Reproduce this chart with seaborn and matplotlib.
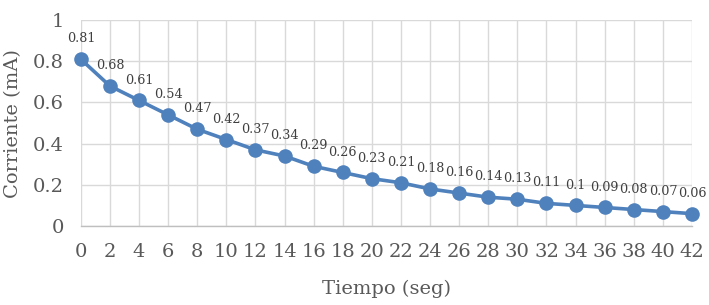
import numpy as np
import pandas as pd
import matplotlib
matplotlib.use('Agg')
import matplotlib.pyplot as plt
import seaborn as sns

# data
tiempo = [0, 2, 4, 6, 8, 10, 12, 14, 16, 18, 20, 22, 24, 26, 28, 30, 32, 34, 36, 38, 40, 42]
corriente = [0.81, 0.68, 0.61, 0.54, 0.47, 0.42, 0.37, 0.34, 0.29, 0.26, 0.23,
             0.21, 0.18, 0.16, 0.14, 0.13, 0.11, 0.1, 0.09, 0.08, 0.07, 0.06]
y_ticks = [0, 0.2, 0.4, 0.6, 0.8, 1]
y_tick_labels = ['0', '0.2', '0.4', '0.6', '0.8', '1']

sns.set_style('white')
plt.rcParams['font.family'] = ['DejaVu Serif']

df = pd.DataFrame({'tiempo': tiempo, 'corriente': corriente})

blue = '#4F81BD'
text_col = '#595959'

fig = plt.figure(figsize=(7.09, 3.05), dpi=100)
ax = fig.add_axes([0.114, 0.259, 0.862, 0.675])

sns.lineplot(data=df, x='tiempo', y='corriente', ax=ax, color=blue,
             linewidth=2.6, marker='o', markersize=10.5, markeredgewidth=0,
             zorder=3, clip_on=False)

# data labels above each point
for xv, yv in zip(tiempo, corriente):
    ax.annotate(f'{yv:g}', (xv, yv), xytext=(0, 10), textcoords='offset points',
                ha='center', va='bottom', fontsize=9.2, color='#404040')

ax.set_xlim(0, 42)
ax.set_ylim(0, 1)
ax.set_xticks(tiempo)
ax.set_xticklabels([str(t) for t in tiempo])
ax.set_yticks(y_ticks)
ax.set_yticklabels(y_tick_labels)

ax.grid(True, color='#D9D9D9', linewidth=1)
ax.set_axisbelow(True)
for s in ['top', 'right', 'left']:
    ax.spines[s].set_visible(False)
ax.spines['bottom'].set_color('#BFBFBF')
ax.spines['bottom'].set_linewidth(1)

ax.tick_params(axis='both', length=0, labelsize=14, colors=text_col, pad=12)
ax.tick_params(axis='x', pad=12)

ax.set_xlabel('Tiempo (seg)', fontsize=14, color=text_col, labelpad=14)
ax.set_ylabel('Corriente (mA)', fontsize=14, color=text_col, labelpad=8)

fig.savefig('out.png', dpi=100)
